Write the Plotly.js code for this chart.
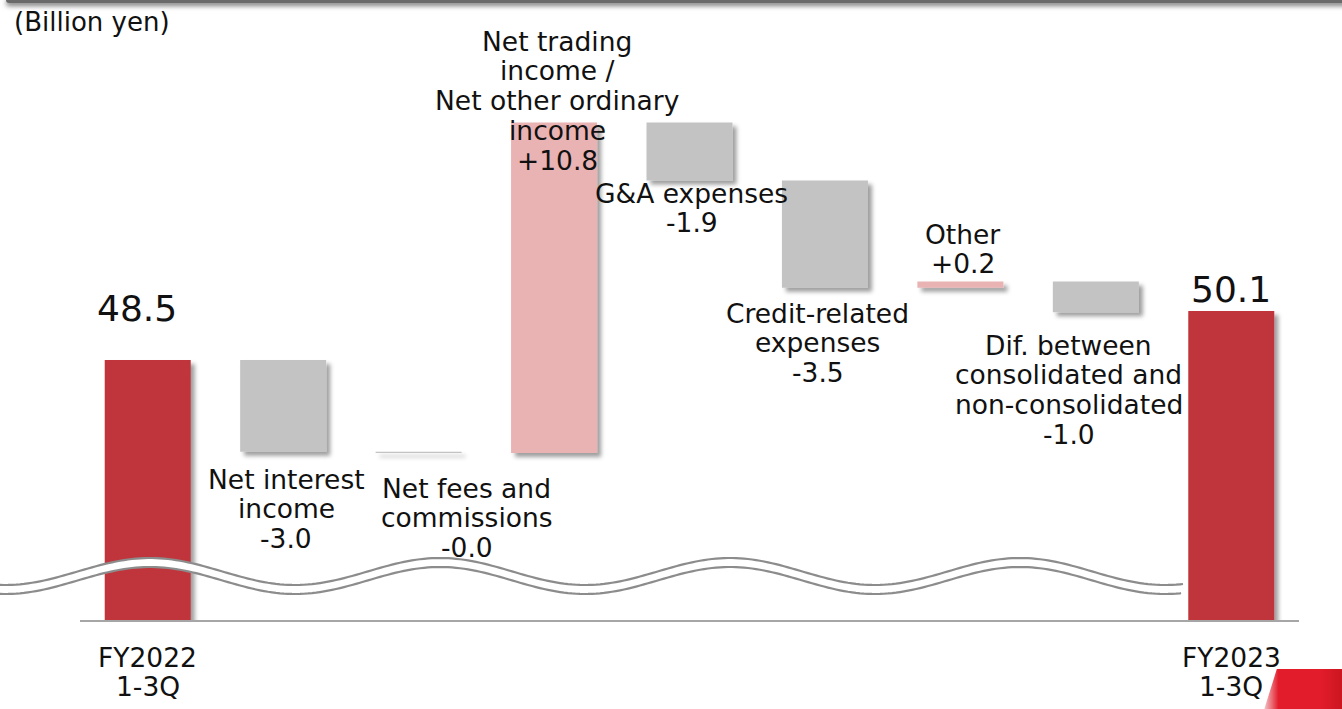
<!DOCTYPE html>
<html>
<head>
<meta charset="utf-8">
<script src="https://cdn.plot.ly/plotly-3.0.1.min.js"></script>
<style>
  html, body { margin: 0; padding: 0; background: #fff; overflow: hidden; }
  #wrap { position: relative; width: 1342px; height: 709px; }
  #chart { position: absolute; left: 0; top: 0; width: 1342px; height: 709px; }
  #chart .barlayer .point path { filter: url(#ds); }
  #topbar { position: absolute; left: 6px; right: -10px; top: -3px; height: 6px; background: #6a6a6a;
            box-shadow: 0 3px 5px rgba(0,0,0,0.5); border-radius: 3px; z-index: 5; }
  #logo { position: absolute; left: 1264px; top: 669px; width: 80px; height: 41px; z-index: 5;
          background: linear-gradient(90deg, #f3c9cb 0%, #e31c2b 18%, #e31c2b 70%, #c9151f 100%);
          clip-path: polygon(16% 0, 100% 0, 100% 100%, 0 100%); }
</style>
</head>
<body>
<svg width="0" height="0" style="position:absolute">
  <defs>
    <filter id="ds" filterUnits="userSpaceOnUse" x="-200" y="-200" width="3000" height="3000">
      <feDropShadow dx="4" dy="4" stdDeviation="2" flood-color="#000" flood-opacity="0.38"/>
    </filter>
  </defs>
</svg>
<div id="wrap">
  <div id="chart"></div>
  <div id="topbar"></div>
  <div id="logo"></div>
</div>
<script>
// ---------------- data ----------------
const categories = [
  "FY2022 1-3Q",
  "Net interest income",
  "Net fees and commissions",
  "Net trading income / Net other ordinary income",
  "G&A expenses",
  "Credit-related expenses",
  "Other",
  "Dif. between consolidated and non-consolidated",
  "FY2023 1-3Q"
];
const startTotal = 48.5;
const endTotal = 50.1;
const deltas = [-3.0, -0.04, 10.8, -1.9, -3.5, 0.2, -1.0];
const totalLabelLines = [["FY2022", "1-3Q"], ["FY2023", "1-3Q"]];
const deltaLabelLines = [
  ["Net interest", "income"],
  ["Net fees and", "commissions"],
  ["Net trading", "income /", "Net other ordinary", "income"],
  ["G&A expenses"],
  ["Credit-related", "expenses"],
  ["Other"],
  ["Dif. between", "consolidated and", "non-consolidated"]
];
const unitLabel = "(Billion yen)";

// ---------------- styling ----------------
const RED = "#c0363a", PINK = "#e9b3b4", GREY = "#c3c3c3";
const FONT = "DejaVu Sans, Verdana, sans-serif";
const W = 1342, H = 709;
const M = { l: 80, r: 43, t: 20, b: 89 };
const plotW = W - M.l - M.r, plotH = H - M.t - M.b;
const yMin = 40, pxPerUnit = 30.6;
const yMax = yMin + plotH / pxPerUnit;

// ---------------- build bars ----------------
const xs = [], ys = [], bases = [], colors = [];
xs.push(categories[0]); ys.push(startTotal); bases.push(0); colors.push(RED);
let run = startTotal;
deltas.forEach((d, i) => {
  xs.push(categories[i + 1]); ys.push(d); bases.push(run);
  colors.push(d >= 0 ? PINK : GREY);
  run += d;
});
xs.push(categories[8]); ys.push(endTotal); bases.push(0); colors.push(RED);

const trace = {
  type: "bar", x: xs, y: ys, base: bases,
  marker: { color: colors, line: { width: 0 } },
  hoverinfo: "skip", showlegend: false
};

// ---------------- annotations ----------------
const py2paper = py => (M.t + plotH - py) / plotH;
const px2paper = px => (px - M.l) / plotW;
const LH = 29.8;
const ann = [];
function addLines(cat, xshift, firstY, lines, size) {
  lines.forEach((t, k) => {
    ann.push({
      x: cat, xref: "x", xshift: xshift,
      y: py2paper(firstY + k * LH), yref: "paper",
      text: t, showarrow: false, xanchor: "center", yanchor: "middle",
      font: { family: FONT, size: size || 26.5, color: "#111" }
    });
  });
}
const fmt = v => (v >= 0 ? "+" : "-") + Math.abs(v).toFixed(1);
// label placement (text-box positions, px): [xshift, first line y]
const deltaLabelPos = [[3, 479], [48, 488], [3, 41], [2, 193], [-7, 313], [2.5, 234], [-27, 345]];
deltaLabelLines.forEach((lines, i) => {
  addLines(categories[i + 1], deltaLabelPos[i][0], deltaLabelPos[i][1], lines.concat([fmt(deltas[i])]));
});
addLines(categories[0], 0, 657, totalLabelLines[0]);
addLines(categories[8], 0, 657, totalLabelLines[1]);
// total values
ann.push({ x: categories[0], xref: "x", xshift: -11, y: py2paper(308), yref: "paper",
  text: startTotal.toFixed(1), showarrow: false, xanchor: "center", yanchor: "middle",
  font: { family: FONT, size: 36, color: "#111" } });
ann.push({ x: categories[8], xref: "x", xshift: 0, y: py2paper(289), yref: "paper",
  text: endTotal.toFixed(1), showarrow: false, xanchor: "center", yanchor: "middle",
  font: { family: FONT, size: 36, color: "#111" } });
// unit
ann.push({ x: px2paper(12), xref: "paper", y: py2paper(22), yref: "paper",
  text: unitLabel, showarrow: false, xanchor: "left", yanchor: "middle",
  font: { family: FONT, size: 26, color: "#111" } });

// ---------------- axis-break wave (decoration) ----------------
function waveY(px) { return 571.5 - 13.5 * Math.cos(2 * Math.PI * (px - 150) / 290); }
const gap = 9, x0 = 0, x1 = 1183;
let up = [], lo = [];
for (let px = x0; px <= x1; px += 4) {
  up.push([px2paper(px), py2paper(waveY(px))]);
  lo.push([px2paper(px), py2paper(waveY(px) + gap)]);
}
up.push([px2paper(x1), py2paper(waveY(x1))]);
lo.push([px2paper(x1 - 2), py2paper(waveY(x1) + gap)]);
const toPath = pts => pts.map((p, i) => (i ? "L" : "M") + p[0].toFixed(5) + "," + p[1].toFixed(5)).join(" ");
const fillPath = toPath(up) + " " + lo.slice().reverse().map(p => "L" + p[0].toFixed(5) + "," + p[1].toFixed(5)).join(" ") + " Z";
const shapes = [
  { type: "path", xref: "paper", yref: "paper", layer: "above", path: fillPath,
    fillcolor: "#ffffff", line: { width: 0 } },
  { type: "path", xref: "paper", yref: "paper", layer: "above", path: toPath(up),
    fillcolor: "rgba(0,0,0,0)", line: { color: "#8c8c8c", width: 2.2 } },
  { type: "path", xref: "paper", yref: "paper", layer: "above", path: toPath(lo),
    fillcolor: "rgba(0,0,0,0)", line: { color: "#8c8c8c", width: 2.2 } }
];

const layout = {
  width: W, height: H, margin: M,
  paper_bgcolor: "#fff", plot_bgcolor: "#fff",
  bargap: 0.365,
  showlegend: false,
  xaxis: { type: "category", categoryorder: "array", categoryarray: categories,
    showticklabels: false, ticks: "", showgrid: false, zeroline: false,
    showline: true, linecolor: "#a6a6a6", linewidth: 2, fixedrange: true },
  yaxis: { range: [yMin, yMax], visible: false, fixedrange: true },
  annotations: ann,
  shapes: shapes
};
Plotly.newPlot("chart", [trace], layout, { displayModeBar: false, staticPlot: true });
</script>
</body>
</html>
